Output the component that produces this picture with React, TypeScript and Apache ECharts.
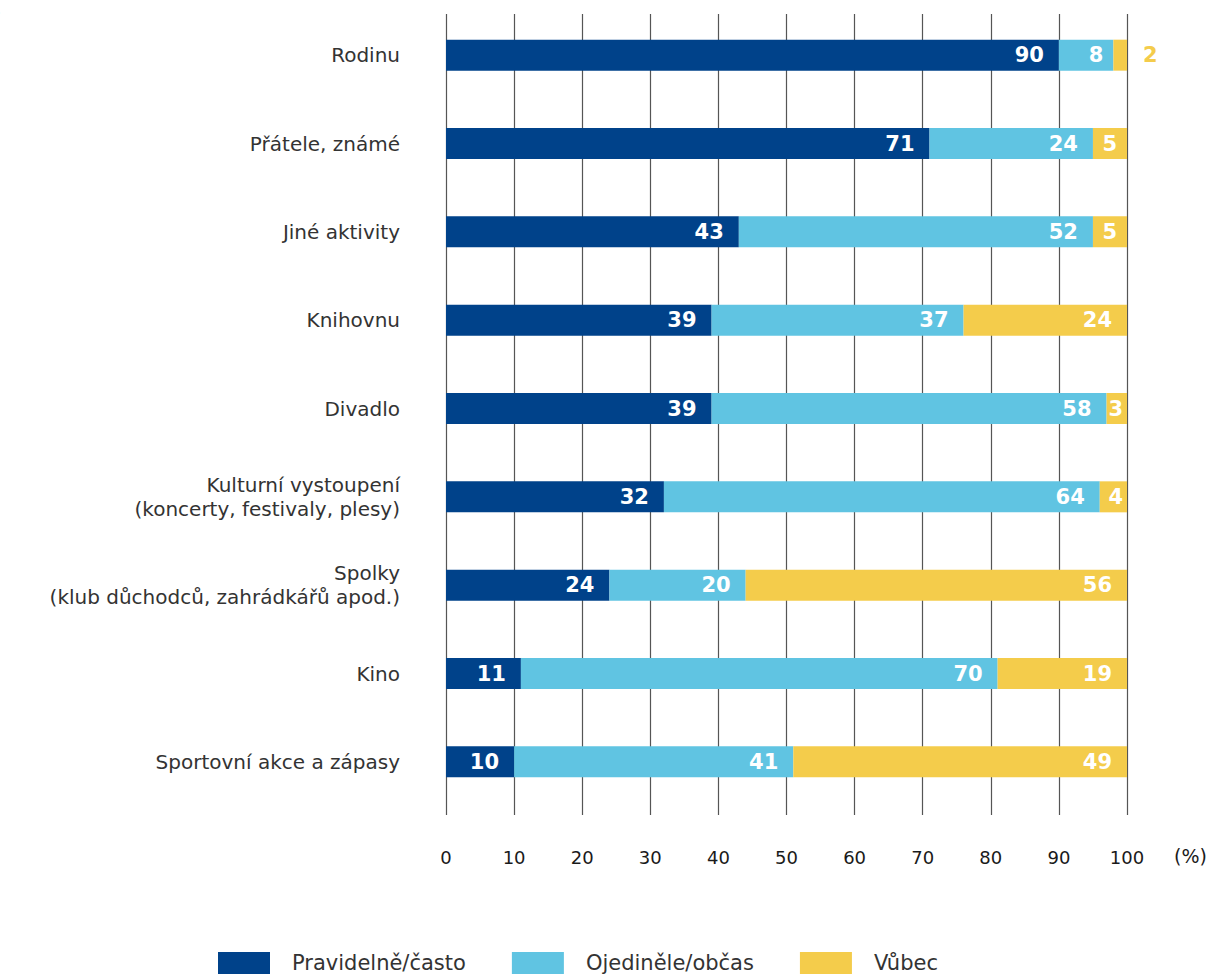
import React, { useEffect, useRef } from "react";
import * as echarts from "echarts";

const categories = [
  "Rodinu",
  "Přátele, známé",
  "Jiné aktivity",
  "Knihovnu",
  "Divadlo",
  "Kulturní vystoupení\n(koncerty, festivaly, plesy)",
  "Spolky\n(klub důchodců, zahrádkářů apod.)",
  "Kino",
  "Sportovní akce a zápasy",
];
const pravidelne = [90, 71, 43, 39, 39, 32, 24, 11, 10];
const ojedinele = [8, 24, 52, 37, 58, 64, 20, 70, 41];
const vubec = [2, 5, 5, 24, 3, 4, 56, 19, 49];
const ticks = [0, 10, 20, 30, 40, 50, 60, 70, 80, 90, 100];

const seriesNames = ["Pravidelně/často", "Ojediněle/občas", "Vůbec"];
const colors = ["#00428a", "#60c4e2", "#f4cc4b"];
const FONT = "DejaVu Sans";

export default function App() {
  const ref = useRef<HTMLDivElement>(null);
  useEffect(() => {
    if (!ref.current) return;
    const chart = echarts.init(ref.current, null, { renderer: "svg" });
    const labelBase = {
      show: true,
      position: "insideRight" as const,
      distance: 15,
      color: "#ffffff",
      fontFamily: FONT,
      fontWeight: "bold" as const,
      fontSize: 21,
    };
    const mk = (i: number, values: number[]) => ({
      name: seriesNames[i],
      type: "bar",
      stack: "total",
      xAxisIndex: 0,
      yAxisIndex: 0,
      barWidth: 31,
      itemStyle: { color: colors[i] },
      label: labelBase,
      data: values.map((v) => {
        if (i === 2 && v < 3) {
          return {
            value: v,
            label: { position: "right", distance: 16, color: colors[2] },
          };
        }
        if (v < 5) {
          return { value: v, label: { distance: 4 } };
        }
        if (v < 10) {
          return { value: v, label: { distance: 10 } };
        }
        return v;
      }),
    });
    chart.setOption({
      animation: false,
      backgroundColor: "#ffffff",
      color: colors,
      textStyle: { fontFamily: FONT },
      grid: [
        { left: 446, right: 87, top: 11, bottom: 168, containLabel: false },
        { left: 446, right: 87, top: 14, bottom: 159, containLabel: false },
      ],
      xAxis: [
        {
          gridIndex: 0,
          type: "value",
          min: 0,
          max: 100,
          interval: 10,
          show: false,
        },
        {
          gridIndex: 1,
          type: "value",
          min: 0,
          max: 100,
          interval: 10,
          axisLine: { show: false },
          axisTick: { show: false },
          splitLine: { show: true, lineStyle: { color: "#555555", width: 1.2 } },
          axisLabel: {
            margin: 33,
            color: "#1a1a1a",
            fontSize: 18,
            fontFamily: FONT,
            formatter: (v: number) => (ticks.includes(v) ? String(v) : ""),
          },
        },
      ],
      yAxis: [
        {
          gridIndex: 0,
          type: "category",
          data: categories,
          inverse: true,
          axisLine: { show: false },
          axisTick: { show: false },
          splitLine: { show: false },
          axisLabel: {
            margin: 46,
            color: "#333333",
            fontSize: 20,
            lineHeight: 24,
            fontFamily: FONT,
            align: "right",
          },
        },
        {
          gridIndex: 1,
          type: "value",
          show: false,
        },
      ],
      legend: {
        left: 218,
        top: 952,
        padding: 0,
        itemWidth: 52,
        itemHeight: 22,
        itemGap: 46,
        icon: "rect",
        data: seriesNames,
        textStyle: {
          fontSize: 21,
          color: "#333333",
          fontFamily: FONT,
          padding: [0, 0, 0, 17],
        },
      },
      graphic: [
        {
          type: "text",
          left: 1174,
          top: 846,
          style: { text: "(%)", fontSize: 19, fontFamily: FONT, fill: "#1a1a1a" },
        },
        {
          type: "text",
          left: -6,
          top: 3,
          style: { text: ")", fontSize: 18, fontFamily: FONT, fill: "#333333" },
        },
      ],
      series: [mk(0, pravidelne), mk(1, ojedinele), mk(2, vubec)],
    });
    return () => chart.dispose();
  }, []);
  return (
    <div
      ref={ref}
      style={{ position: "fixed", left: 0, top: 0, width: 1214, height: 974, background: "#fff" }}
    />
  );
}
